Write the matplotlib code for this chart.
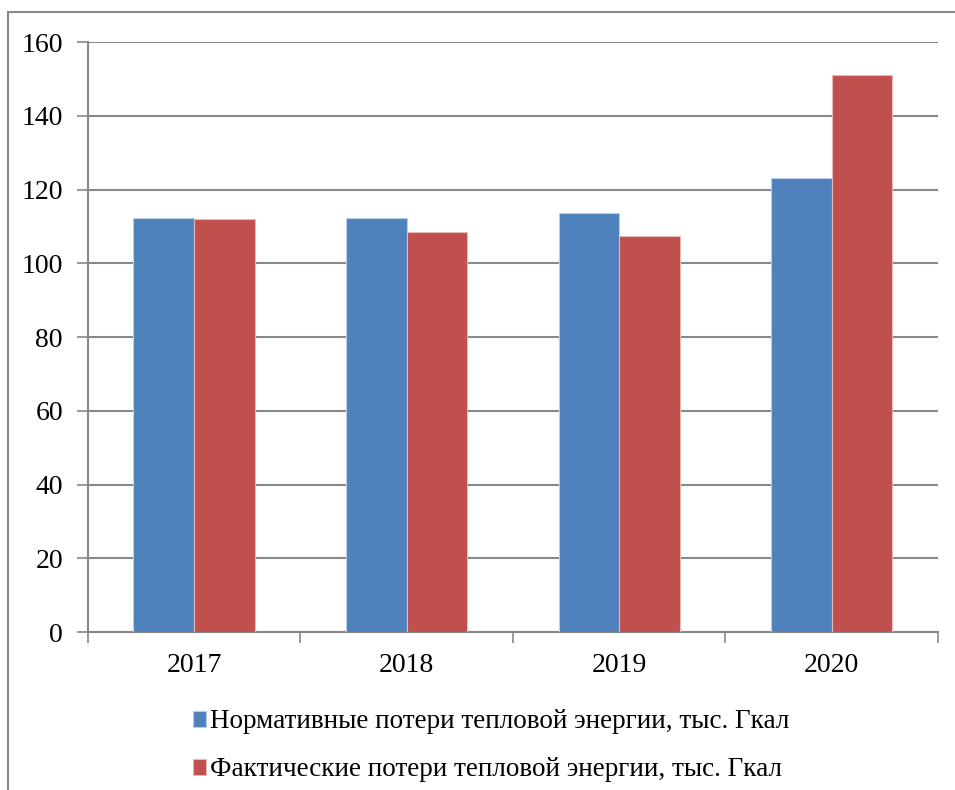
import matplotlib.pyplot as plt
import numpy as np
from matplotlib.lines import Line2D

years = ["2017", "2018", "2019", "2020"]
normative = [112.4, 112.4, 113.6, 123.0]
actual = [112.0, 108.4, 107.4, 151.0]
labels = ["Нормативные потери тепловой энергии, тыс. Гкал",
          "Фактические потери тепловой энергии, тыс. Гкал"]
colors = ["#4F81BD", "#C0504D"]
y_ticks = [0, 20, 40, 60, 80, 100, 120, 140, 160]

plt.rcParams['font.family'] = ['Liberation Serif', 'DejaVu Serif']

fig = plt.figure(figsize=(9.55, 7.9), dpi=100)
ax = fig.add_axes([0.0921, 0.2, 0.8901, 0.7468])

x = np.arange(len(years))
w = 1 / 3.5
ax.bar(x - w / 2, normative, w, color=colors[0], edgecolor="#B9CDE5", linewidth=0.8, label=labels[0], zorder=3)
ax.bar(x + w / 2, actual, w, color=colors[1], edgecolor="#E6B9B8", linewidth=0.8, label=labels[1], zorder=3)

ax.set_xlim(-0.5, 3.5)
ax.set_ylim(0, 160)
ax.set_yticks(y_ticks)
ax.tick_params(axis="y", labelsize=20, length=8, width=1.2, color="#888888", pad=10)
ax.yaxis.grid(True, color="#888888", linewidth=1.5, zorder=0)

ax.set_xticks(x)
ax.set_xticklabels(years)
ax.tick_params(axis="x", labelsize=20, length=0, pad=15)
ax.set_xticks(np.arange(-0.5, 4, 1), minor=True)
ax.tick_params(axis="x", which="minor", length=8, width=1.2, color="#888888")

for s in ["top", "right"]:
	ax.spines[s].set_visible(False)
ax.spines["left"].set_color("#888888")
ax.spines["left"].set_linewidth(1.5)
ax.spines["bottom"].set_color("#888888")
ax.spines["bottom"].set_linewidth(1.5)

ax.legend(loc="upper center", bbox_to_anchor=(0.4745, -0.09), frameon=False, fontsize=19.5,
	handlelength=0.5, handleheight=0.5, handletextpad=0.15, labelspacing=0.85)

# outer frame of the chart object
fig.add_artist(Line2D([8 / 955, 8 / 955], [0, 1 - 12 / 790], color="#888888", linewidth=1.5))
fig.add_artist(Line2D([8 / 955, 1], [1 - 12 / 790, 1 - 12 / 790], color="#888888", linewidth=1.5))

fig.savefig("out.png", dpi=100)
